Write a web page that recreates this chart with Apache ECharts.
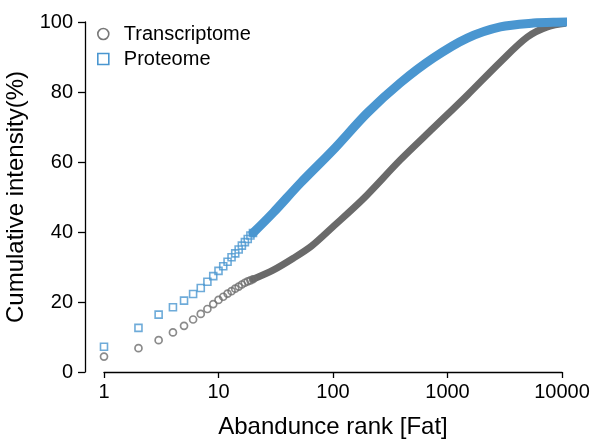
<!DOCTYPE html>
<html>
<head>
<meta charset="utf-8">
<script src="https://cdn.jsdelivr.net/npm/echarts@6/dist/echarts.min.js"></script>
<style>html,body{margin:0;padding:0;background:#fff}#c{width:595px;height:440px}</style>
</head>
<body>
<div id="c"></div>
<script>
// Individually visible low ranks
const ranksLow = [1,2,3,4,5,6,7,8,9,10,11,12,13,14,15,16,17,18,19,20];
const transcriptomeLow = [4.4,6.8,9.1,11.3,13.2,15.0,16.6,18.0,19.4,20.6,21.5,22.4,23.1,23.8,24.4,25.0,25.5,25.9,26.2,26.5];
const proteomeLow = [7.2,12.6,16.4,18.5,20.4,22.3,24.0,25.8,27.4,28.9,30.2,31.5,32.8,33.9,35.0,36.1,37.1,38.0,39.0,39.7];
// Dense (overlapping markers) part, read along the band
const transcriptomeRanksDense = [20,30,45,65,100,184,387,751,1488,2897,4985,7455,11150,17300];
const transcriptomeDense = [26.5,29.1,32.5,36.0,41.5,49.5,60.6,69.7,79.1,88.6,95.7,98.6,99.7,100];
const proteomeRanksDense = [20,30,52,100,199,387,751,1488,2897,5624,9000,13700];
const proteomeDense = [39.7,45.5,54.0,63.4,74.0,82.6,89.7,95.4,98.6,99.7,99.95,100];
const xTicks = [1,10,100,1000,10000];
const yTicks = [0,20,40,60,80,100];

const GRAY = '#6a6a6a', BLUE = '#4a96d0';
const FONT = 'Liberation Sans, Arial, Helvetica, sans-serif';
const zip = (a,b) => a.map((v,i)=>[v,b[i]]);

const chart = echarts.init(document.getElementById('c'), null, {renderer:'canvas'});
chart.setOption({
  animation:false,
  backgroundColor:'#fff',
  grid:{left:104, right:33, top:22, bottom:68, containLabel:false, outerBoundsMode:'none'},
  legend:{
    orient:'vertical', left:92, top:19, itemWidth:11, itemHeight:11, itemGap:5,
    textStyle:{fontFamily:FONT, fontSize:20, color:'#000', padding:[0,0,0,10]},
    data:[
      {name:'Transcriptome', icon:'circle', itemStyle:{color:'#fff', borderColor:'#777', borderWidth:1.6}},
      {name:'Proteome', icon:'rect', itemStyle:{color:'#fff', borderColor:BLUE, borderWidth:1.6}}
    ]
  },
  xAxis:{
    type:'log', logBase:10, min:xTicks[0], max:xTicks[xTicks.length-1],
    name:'Abandunce rank [Fat]', nameLocation:'middle', nameGap:43,
    nameTextStyle:{fontFamily:FONT, fontSize:24, color:'#000'},
    axisLine:{lineStyle:{color:'#000', width:1.3}},
    axisTick:{length:6, lineStyle:{color:'#000', width:1.3}},
    axisLabel:{fontFamily:FONT, fontSize:20, color:'#000', margin:10, formatter:v=>String(Math.round(v))},
    splitLine:{show:false}, minorTick:{show:false}
  },
  yAxis:{
    type:'value', min:yTicks[0], max:yTicks[yTicks.length-1], interval:20, offset:19,
    name:'Cumulative intensity(%)', nameLocation:'middle', nameGap:40,
    nameTextStyle:{fontFamily:FONT, fontSize:24, color:'#000'},
    axisLine:{show:true, lineStyle:{color:'#000', width:1.3}},
    axisTick:{show:true, length:7, lineStyle:{color:'#000', width:1.3}},
    axisLabel:{fontFamily:FONT, fontSize:20, color:'#000', margin:12},
    splitLine:{show:false}
  },
  series:[
    {name:'Transcriptome', type:'line', data:zip(transcriptomeRanksDense, transcriptomeDense),
     showSymbol:false, smooth:0.3, clip:false, z:2,
     lineStyle:{color:GRAY, width:7, cap:'round', join:'round'}, itemStyle:{color:GRAY}},
    {name:'Transcriptome', type:'scatter', data:zip(ranksLow, transcriptomeLow), clip:false, z:3,
     symbol:'circle', symbolSize:7,
     itemStyle:{color:'rgba(255,255,255,0)', borderColor:'#6e6e6e', borderWidth:1.7}},
    {name:'Proteome', type:'line', data:zip(proteomeRanksDense, proteomeDense),
     showSymbol:false, smooth:0.3, clip:false, z:4,
     lineStyle:{color:BLUE, width:9, cap:'round', join:'round'}, itemStyle:{color:BLUE}},
    {name:'Proteome', type:'scatter', data:zip(ranksLow, proteomeLow), clip:false, z:5,
     symbol:'rect', symbolSize:7,
     itemStyle:{color:'rgba(255,255,255,0)', borderColor:BLUE, borderWidth:1.6}}
  ]
});
</script>
</body>
</html>
